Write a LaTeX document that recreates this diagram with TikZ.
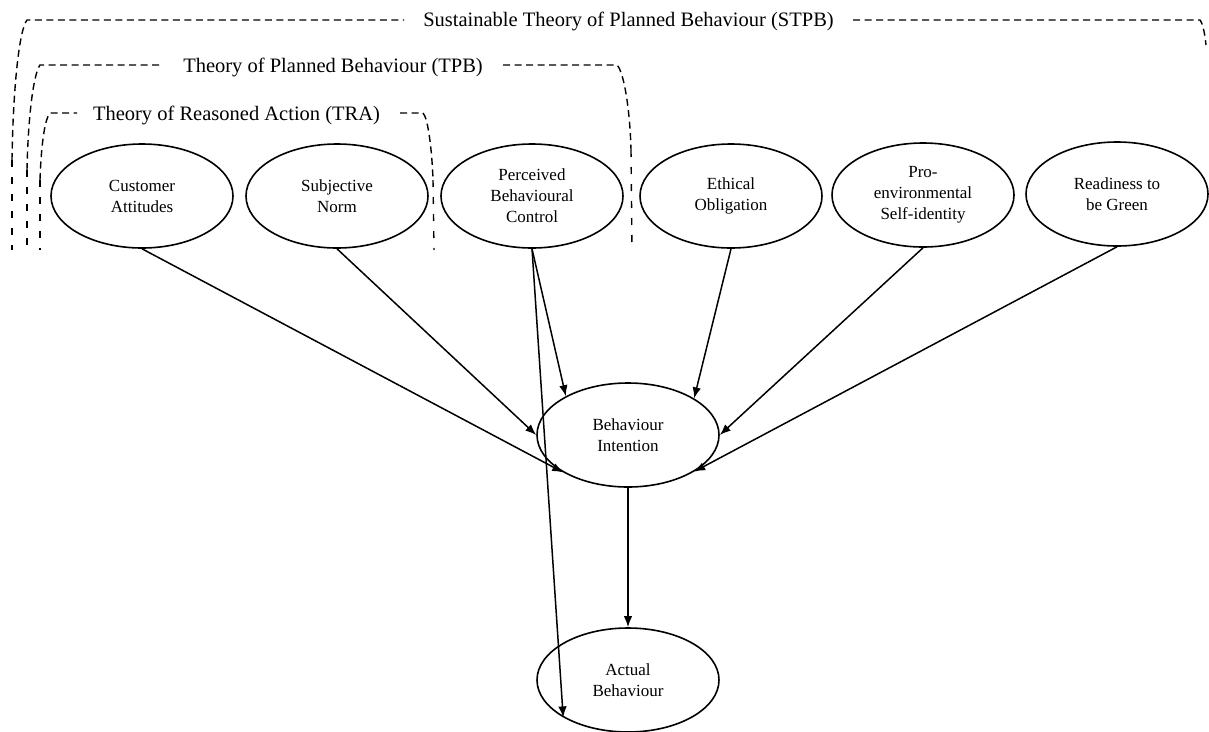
\documentclass[tikz,border=0pt]{standalone}
\usepackage{fontspec}
\setmainfont{Liberation Serif}
\usetikzlibrary{shapes.geometric,arrows.meta}
\begin{document}
\begin{tikzpicture}[x=1pt,y=-1pt,
 ell/.style={draw,ellipse,line width=1.6pt,minimum width=182pt,minimum height=104pt,inner sep=0pt,align=center,font=\fontsize{17}{21}\selectfont},
 ttl/.style={inner sep=0pt,anchor=base,font=\fontsize{20.5}{24}\selectfont},
 dsh/.style={line width=1.4pt,dash pattern=on 7pt off 4.5pt},
 dshv/.style={line width=1.4pt,dash pattern=on 7pt off 10pt},
 arr/.style={line width=1.5pt,-{Latex[length=11pt,width=8.5pt]}}]
\useasboundingbox (0,0) rectangle (1209,731);

% titles
\node[ttl] (stpb) at (628.5,26) {Sustainable Theory of Planned Behaviour (STPB)};
\node[ttl] (tpb) at (333,72) {Theory of Planned Behaviour (TPB)};
\node[ttl] (tra) at (236.5,120) {Theory of Reasoned Action (TRA)};

% STPB bracket
\draw[dsh] (12,160) .. controls (13,90) and (19,30) .. (27,20) -- (404,20);
\draw[dshv] (12,160) -- (12,250);
\draw[dsh] (853,20) -- (1200,20) .. controls (1203,24) and (1205,35) .. (1206,45);
% TPB bracket
\draw[dsh] (27,170) .. controls (28,120) and (33,75) .. (40,65) -- (160,65);
\draw[dshv] (27,170) -- (27,250);
\draw[dsh] (503,65) -- (617,65) .. controls (624,72) and (630,110) .. (631,150);
\draw[dshv] (631,150) -- (632,250);
% TRA bracket
\draw[dsh] (40,180) .. controls (41,150) and (44,120) .. (50,113) -- (77,113);
\draw[dshv] (40,180) -- (40,250);
\draw[dsh] (400,113) -- (423,113) .. controls (428,118) and (432,150) .. (433,180);
\draw[dshv] (433,180) -- (434,250);

% nodes
\node[ell] (ca) at (142,196) {Customer\\Attitudes};
\node[ell] (sn) at (337,196) {Subjective\\Norm};
\node[ell] (pbc) at (532,196) {Perceived\\Behavioural\\Control};
\node[ell] (eo) at (731,196) {Ethical\\Obligation};
\node[ell] (pe) at (923,195) {Pro-\\environmental\\Self-identity};
\node[ell] (rg) at (1117,194) {Readiness to\\be Green};
\node[ell] (bi) at (628,435) {Behaviour\\Intention};
\node[ell] (ab) at (628,680) {Actual\\Behaviour};

% connectors
\draw[arr] (ca.south) -- (bi.210.4);
\draw[arr] (sn.south) -- (bi.180);
\draw[arr] (pbc.south) -- (bi.148.9);
\draw[arr] (pbc.south) -- (ab.210.8);
\draw[arr] (eo.south) -- (bi.29.9);
\draw[arr] (pe.south) -- (bi.0);
\draw[arr] (rg.south) -- (bi.331.8);
\draw[arr] (bi.south) -- (ab.north);
\end{tikzpicture}
\end{document}
